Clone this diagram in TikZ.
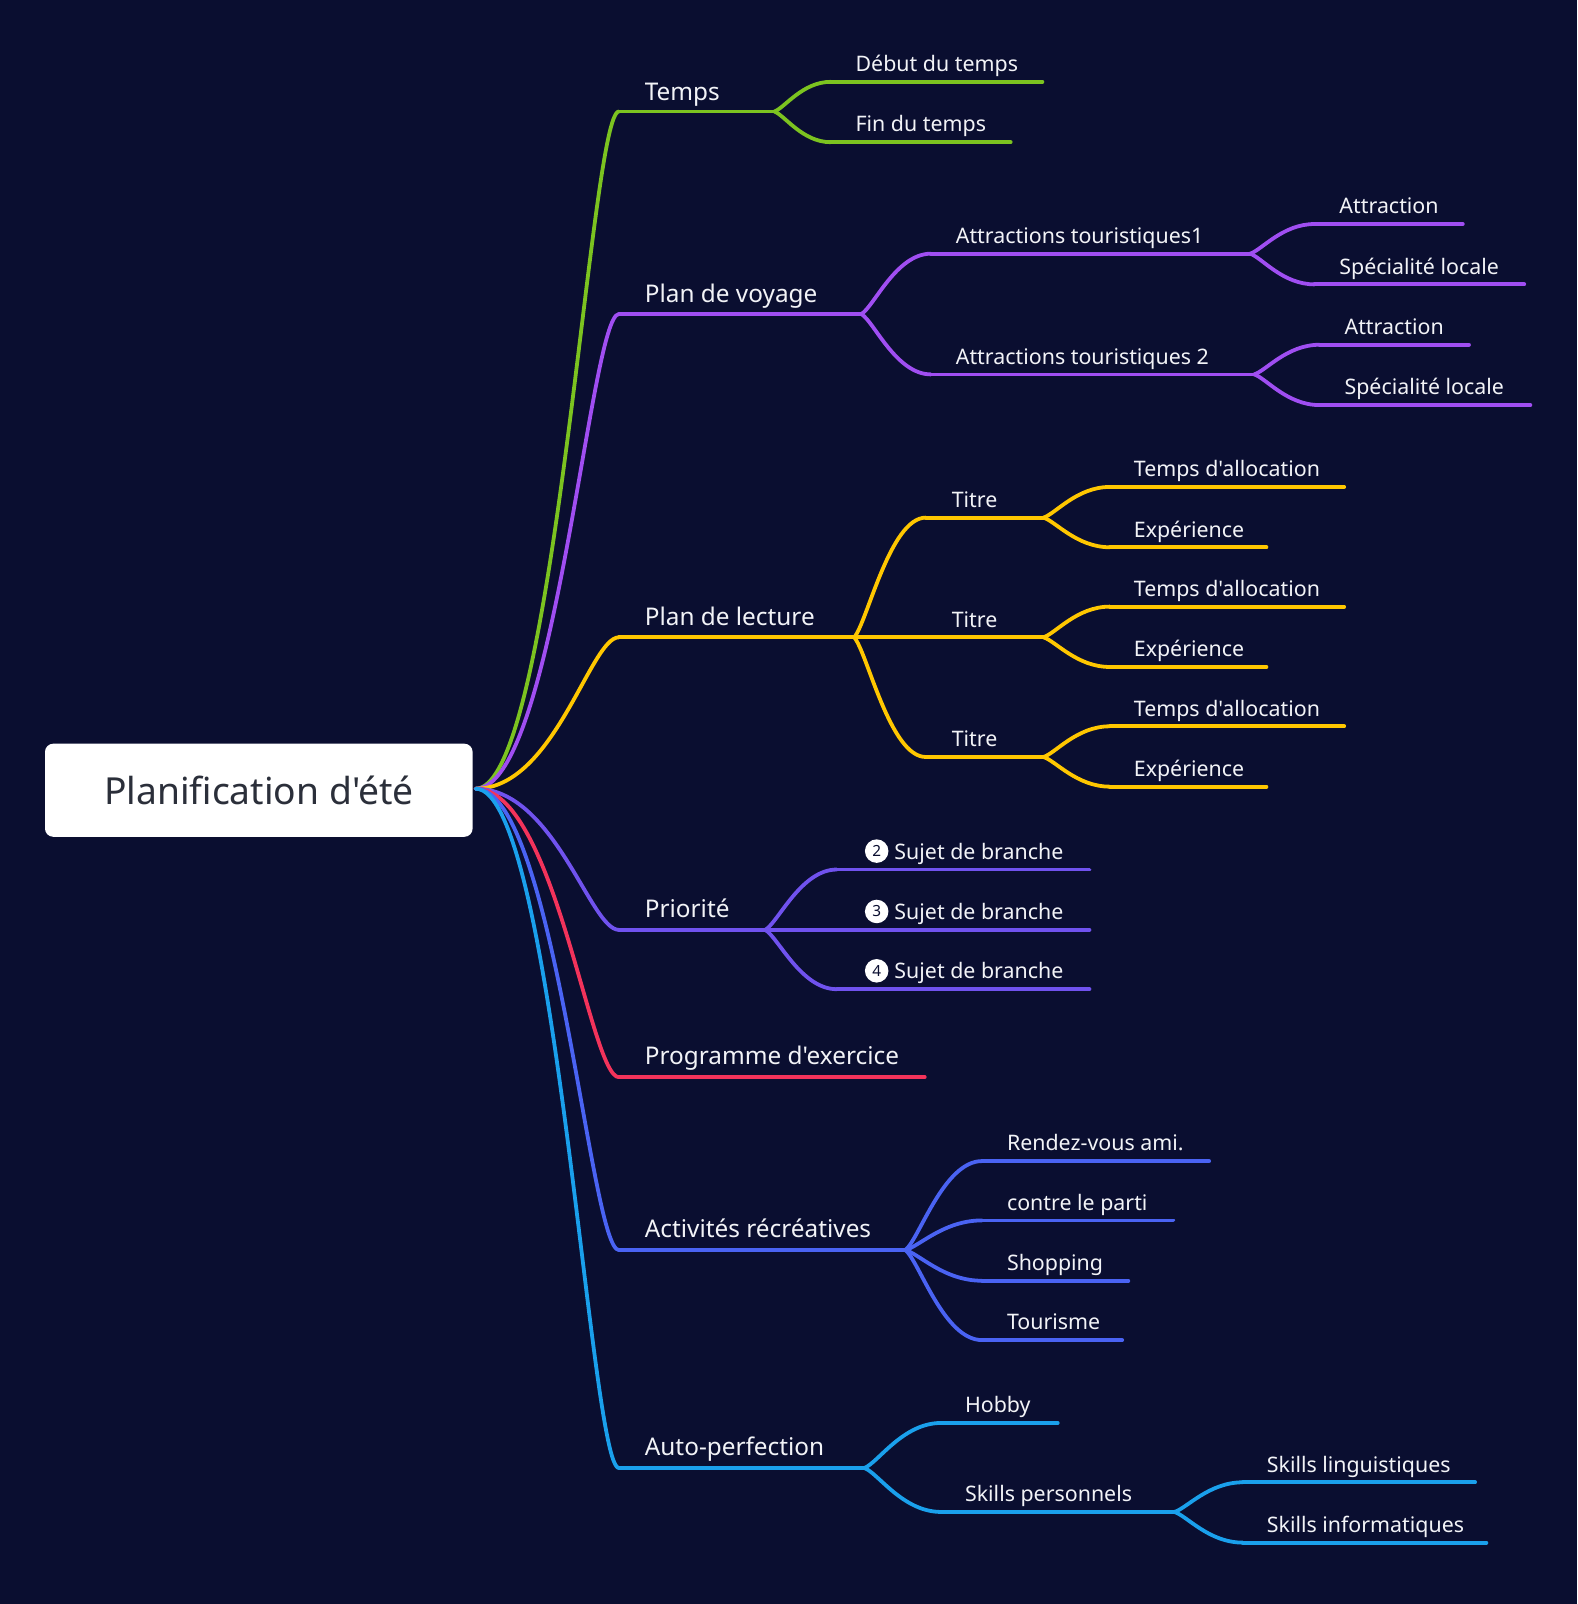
\documentclass[tikz,border=0pt]{standalone}
\usepackage{fontspec}
\setmainfont{Noto Sans}[Ligatures=TeXOff]
\usetikzlibrary{calc}
\definecolor{bgc}{HTML}{0A0E30}
\definecolor{cgreen}{HTML}{7CC320}
\definecolor{cpurple}{HTML}{A04EF2}
\definecolor{cyellow}{HTML}{FFC700}
\definecolor{cviolet}{HTML}{7052EE}
\definecolor{cred}{HTML}{F3335B}
\definecolor{cblue}{HTML}{4A63F3}
\definecolor{csky}{HTML}{1AA0EC}
\definecolor{txt}{HTML}{F2F3F7}
\definecolor{roottxt}{HTML}{2B2F3A}
\tikzset{
  lnk/.style={line width=1.85pt, line cap=round},
  mainlbl/.style={anchor=base west, inner sep=0pt, text=txt, font=\fontsize{11.9}{14}\selectfont},
  sublbl/.style={anchor=base west, inner sep=0pt, text=txt, font=\fontsize{10.45}{12}\selectfont},
  numc/.style={circle, fill=white, inner sep=0pt, minimum size=11.5pt, text=bgc, font=\fontsize{7.5}{8}\selectfont},
  rootbox/.style={fill=white, rounded corners=4pt, minimum width=209pt, minimum height=45.5pt, text=roottxt, font=\fontsize{18.2}{21}\selectfont}
}
\newcommand\rootlink[3]{\draw[lnk,#1] let \p1=(#2), \p2=(#3) in (\p1) .. controls ({\x1+0.55*(\x2-\x1)},\y1) and ({\x1+0.8*(\x2-\x1)},\y2) .. (\p2);}
\newcommand\forklink[3]{\draw[lnk,#1] let \p1=(#2), \p2=(#3) in (\p1) .. controls ({\x1+0.18*(\x2-\x1)},{\y1+0.12*(\y2-\y1)}) and ({\x1+0.5*(\x2-\x1)},\y2) .. (\p2);}
\begin{document}
\begin{tikzpicture}[x=0.5pt,y=-0.5pt]
\fill[bgc] (0,0) rectangle (1542,1568);
\useasboundingbox (0,0) rectangle (1542,1568);

% root
\node[rootbox] (root) at (253,772.5) {Planification d'été};
\coordinate (rx) at (465,771);

% ---------- Temps
\coordinate (t0) at (605,109); \coordinate (t1) at (757,109);
\coordinate (ta0) at (812,80); \coordinate (ta1) at (1019,80);
\coordinate (tb0) at (812,139); \coordinate (tb1) at (988,139);
\rootlink{cgreen}{rx}{t0}
\draw[lnk,cgreen] (t0) -- (t1);
\forklink{cgreen}{t1}{ta0} \draw[lnk,cgreen] (ta0) -- (ta1);
\forklink{cgreen}{t1}{tb0} \draw[lnk,cgreen] (tb0) -- (tb1);
\node[mainlbl] (temps) at (630,98) {Temps};
\node[sublbl] (debut) at (836,70) {Début du temps};
\node[sublbl] (fin) at (836,129) {Fin du temps};

% ---------- Plan de voyage
\coordinate (v0) at (605,307); \coordinate (v1) at (842,307);
\coordinate (va0) at (910,248); \coordinate (va1) at (1222,248);
\coordinate (vb0) at (910,366); \coordinate (vb1) at (1226,366);
\coordinate (vaa0) at (1285,219); \coordinate (vaa1) at (1430,219);
\coordinate (vab0) at (1285,278); \coordinate (vab1) at (1490,278);
\coordinate (vba0) at (1290,337); \coordinate (vba1) at (1436,337);
\coordinate (vbb0) at (1290,396); \coordinate (vbb1) at (1496,396);
\rootlink{cpurple}{rx}{v0}
\draw[lnk,cpurple] (v0) -- (v1);
\forklink{cpurple}{v1}{va0} \draw[lnk,cpurple] (va0) -- (va1);
\forklink{cpurple}{v1}{vb0} \draw[lnk,cpurple] (vb0) -- (vb1);
\forklink{cpurple}{va1}{vaa0} \draw[lnk,cpurple] (vaa0) -- (vaa1);
\forklink{cpurple}{va1}{vab0} \draw[lnk,cpurple] (vab0) -- (vab1);
\forklink{cpurple}{vb1}{vba0} \draw[lnk,cpurple] (vba0) -- (vba1);
\forklink{cpurple}{vb1}{vbb0} \draw[lnk,cpurple] (vbb0) -- (vbb1);
\node[mainlbl] (voyage) at (630,296) {Plan de voyage};
\node[sublbl] (at1) at (934,238) {Attractions touristiques1};
\node[sublbl] (at2) at (934,356) {Attractions touristiques 2};
\node[sublbl] (at1a) at (1309,209) {Attraction};
\node[sublbl] (at1b) at (1309,268) {Spécialité locale};
\node[sublbl] (at2a) at (1314,327) {Attraction};
\node[sublbl] (at2b) at (1314,386) {Spécialité locale};

% ---------- Plan de lecture
\coordinate (l0) at (605,623); \coordinate (l1) at (835,623);
\rootlink{cyellow}{rx}{l0}
\draw[lnk,cyellow] (l0) -- (l1);
\foreach \k/\yy in {1/506,2/623,3/740}{
  \coordinate (lt\k0) at (905,\yy); \coordinate (lt\k1) at (1020,\yy);
  \coordinate (lta\k0) at (1085,\yy-30); \coordinate (lta\k1) at (1314,\yy-30);
  \coordinate (ltb\k0) at (1085,\yy+29); \coordinate (ltb\k1) at (1238,\yy+29);
  \forklink{cyellow}{l1}{lt\k0} \draw[lnk,cyellow] (lt\k0) -- (lt\k1);
  \forklink{cyellow}{lt\k1}{lta\k0} \draw[lnk,cyellow] (lta\k0) -- (lta\k1);
  \forklink{cyellow}{lt\k1}{ltb\k0} \draw[lnk,cyellow] (ltb\k0) -- (ltb\k1);
  \node[sublbl] (titre\k) at (930,\yy-10) {Titre};
  \node[sublbl] (alloc\k) at (1108,\yy-40) {Temps d'allocation};
  \node[sublbl] (exp\k) at (1108,\yy+19) {Expérience};
}
\node[mainlbl] (lecture) at (630,611) {Plan de lecture};

% ---------- Priorité
\coordinate (p0) at (605,909); \coordinate (p1) at (748,909);
\rootlink{cviolet}{rx}{p0}
\draw[lnk,cviolet] (p0) -- (p1);
\foreach \k/\yy in {2/850,3/909,4/967}{
  \coordinate (pc\k0) at (818,\yy); \coordinate (pc\k1) at (1065,\yy);
  \forklink{cviolet}{p1}{pc\k0} \draw[lnk,cviolet] (pc\k0) -- (pc\k1);
  \node[numc] (num\k) at (857,\yy-18) {\k};
  \node[sublbl] (sujet\k) at (874,\yy-10) {Sujet de branche};
}
\node[mainlbl] (prio) at (630,897) {Priorité};

% ---------- Programme d'exercice
\coordinate (e0) at (605,1053); \coordinate (e1) at (904,1053);
\rootlink{cred}{rx}{e0}
\draw[lnk,cred] (e0) -- (e1);
\node[mainlbl] (exo) at (630,1041) {Programme d'exercice};

% ---------- Activités récréatives
\coordinate (a0) at (605,1222); \coordinate (a1) at (885,1222);
\rootlink{cblue}{rx}{a0}
\draw[lnk,cblue] (a0) -- (a1);
\foreach \k/\yy/\xe/\tt in {1/1135/1182/{Rendez-vous ami.},2/1193/1147/{contre le parti},3/1252/1103/{Shopping},4/1310/1097/{Tourisme}}{
  \coordinate (ac\k0) at (960,\yy); \coordinate (ac\k1) at (\xe,\yy);
  \forklink{cblue}{a1}{ac\k0} \draw[lnk,cblue] (ac\k0) -- (ac\k1);
  \node[sublbl] (act\k) at (984,\yy-10) {\tt};
}
\node[mainlbl] (activ) at (630,1210) {Activités récréatives};

% ---------- Auto-perfection
\coordinate (s0) at (605,1435); \coordinate (s1) at (845,1435);
\coordinate (sa0) at (920,1391); \coordinate (sa1) at (1034,1391);
\coordinate (sb0) at (920,1478); \coordinate (sb1) at (1148,1478);
\coordinate (sba0) at (1215,1449); \coordinate (sba1) at (1442,1449);
\coordinate (sbb0) at (1215,1508); \coordinate (sbb1) at (1453,1508);
\rootlink{csky}{rx}{s0}
\draw[lnk,csky] (s0) -- (s1);
\forklink{csky}{s1}{sa0} \draw[lnk,csky] (sa0) -- (sa1);
\forklink{csky}{s1}{sb0} \draw[lnk,csky] (sb0) -- (sb1);
\forklink{csky}{sb1}{sba0} \draw[lnk,csky] (sba0) -- (sba1);
\forklink{csky}{sb1}{sbb0} \draw[lnk,csky] (sbb0) -- (sbb1);
\node[mainlbl] (auto) at (630,1423) {Auto-perfection};
\node[sublbl] (hobby) at (943,1381) {Hobby};
\node[sublbl] (skp) at (943,1468) {Skills personnels};
\node[sublbl] (skl) at (1238,1439) {Skills linguistiques};
\node[sublbl] (ski) at (1238,1498) {Skills informatiques};
\end{tikzpicture}
\end{document}
